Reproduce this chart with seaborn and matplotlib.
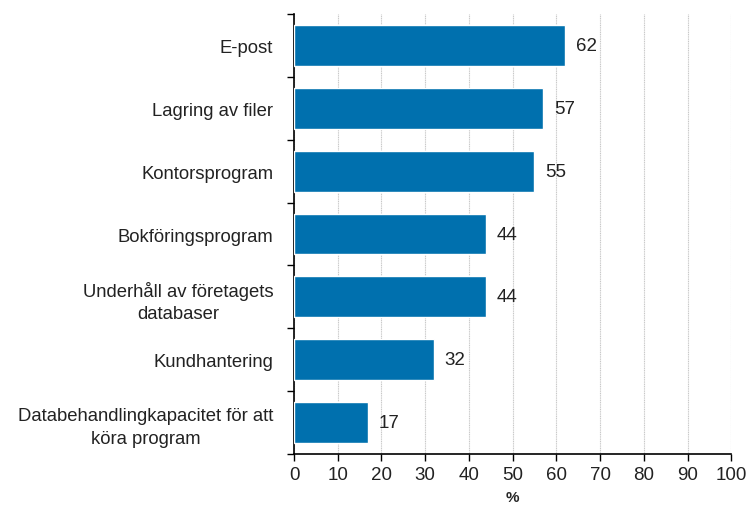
import matplotlib
matplotlib.use("Agg")
import matplotlib.pyplot as plt
import seaborn as sns
import pandas as pd
import numpy as np

categories = [
    "E-post",
    "Lagring av filer",
    "Kontorsprogram",
    "Bokföringsprogram",
    "Underhåll av företagets\ndatabaser",
    "Kundhantering",
    "Databehandlingkapacitet för att\nköra program",
]
values = [62, 57, 55, 44, 44, 32, 17]
xticks = list(range(0, 101, 10))

sns.set_style("white")
plt.rcParams["font.family"] = ["Liberation Sans", "DejaVu Sans"]

df = pd.DataFrame({"kategori": categories, "andel": values})

fig = plt.figure(figsize=(7.5, 5.06), dpi=100)
ax = fig.add_axes([0.392, 0.101, 0.583, 0.869])

sns.barplot(data=df, x="andel", y="kategori", color="#0070ae", saturation=1,
            width=0.65, ax=ax, zorder=3)

for i, v in enumerate(values):
    ax.text(v + 2.4, i, str(v), va="center", ha="left", fontsize=13.5, color="#222222")

ax.set_xlim(0, 100)
ax.set_ylim(6.5, -0.5)
ax.set_xticks(xticks)
ax.set_xlabel("%", fontsize=11, fontweight="bold", labelpad=5)
ax.set_ylabel("")

ax.set_yticks(range(len(categories)))
ax.set_yticklabels(categories, multialignment="center", linespacing=1.4)

# category separators as ticks on the y axis
ax.set_yticks(np.arange(-0.5, 7, 1), minor=True)
ax.tick_params(axis="y", which="major", left=False, length=0, pad=15, labelsize=13.3,
               labelcolor="#222222")
ax.tick_params(axis="y", which="minor", left=True, length=5, width=1, direction="out",
               color="black")
ax.tick_params(axis="x", which="major", bottom=True, length=5, width=1, direction="out",
               color="black", labelsize=13.5, pad=4, labelcolor="#222222")

ax.grid(axis="x", color="#c8c8c8", linestyle=(0, (1, 0.6)), linewidth=0.8, zorder=0)
ax.set_axisbelow(True)

sns.despine(ax=ax, top=True, right=True)
ax.spines["left"].set_color("black")
ax.spines["bottom"].set_color("black")
ax.spines["left"].set_linewidth(1.2)
ax.spines["bottom"].set_linewidth(1.2)

fig.savefig("out.png", dpi=100)
